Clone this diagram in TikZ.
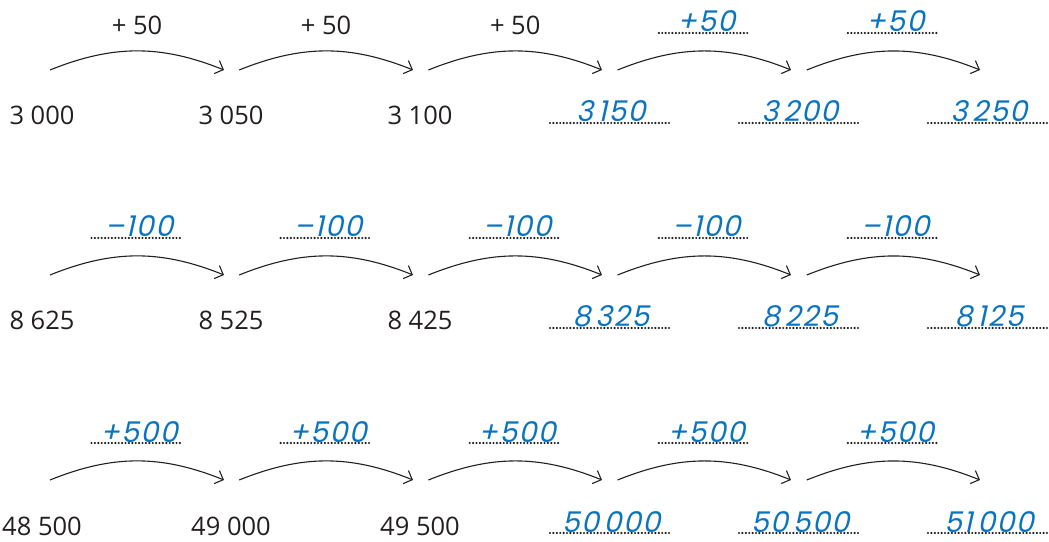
\documentclass[tikz,border=0pt]{standalone}
\usepackage{fontspec}
\setmainfont{Open Sans}
\newfontfamily\hand[FakeSlant=0.22,LetterSpace=5]{Poppins}
\usetikzlibrary{arrows.meta,calc}
\definecolor{ansblue}{HTML}{0A74BE}
\definecolor{dotgray}{HTML}{1E1E1E}
\definecolor{ink}{HTML}{231F20}
\tikzset{
  jump/.style={-{Straight Barb[length=7pt,width=14pt,line width=1.1pt]}, line width=1.1pt, ink, bend left=22},
  given/.style={font=\fontsize{25.5}{25.5}\selectfont, text=ink, anchor=base, inner sep=0pt},
  answer/.style={font=\hand\fontsize{28.5}{28.5}\selectfont, text=ansblue, anchor=base, inner sep=0pt},
  dotline/.style={dotgray, line width=2.4pt, line cap=round, dash pattern=on 0pt off 3.4pt},
}
\begin{document}
\begin{tikzpicture}[x=1pt,y=1pt]
\useasboundingbox (0,0) rectangle (1049,541);
% arrows
\foreach \r/\ay in {1/471,2/266,3/61}{
  \foreach \k in {0,...,4}{
    \coordinate (s\r\k) at ({50+189.2*\k},\ay);
    \coordinate (e\r\k) at ({224+189*\k},\ay);
    \draw[jump] (s\r\k) to (e\r\k);
  }
}
% given numbers and answers
\foreach \r/\ay/\ga/\gb/\gc/\aa/\ab/\ac in {
  1/471/3 000/3 050/3 100/3\,150/3\,200/3\,250,
  2/266/8 625/8 525/8 425/8\,325/8\,225/8\,125,
  3/61/48 500/49 000/49 500/50\,000/50\,500/51\,000}{
  \node[given] (g\r0) at (42,{\ay-55}) {\ga};
  \node[given] (g\r1) at (231,{\ay-55}) {\gb};
  \node[given] (g\r2) at (420,{\ay-55}) {\gc};
  \foreach \j/\t in {0/\aa,1/\ab,2/\ac}{
    \coordinate (ac\r\j) at ({610+189*\j},{\ay-53});
    \draw[dotline] ($(ac\r\j)+(-60,0)$) coordinate (al\r\j) -- ($(ac\r\j)+(60,0)$) coordinate (ar\r\j);
    \node[answer] (a\r\j) at ($(ac\r\j)+(1,1)$) {\t};
  }
}
% black step labels (row 1)
\foreach \k in {0,1,2}{
  \node[given] (l1\k) at ($(s1\k)!0.5!(e1\k)+(0,35)$) {+ 50};
}
% blue step labels
\foreach \r/\k/\t in {1/3/+50,1/4/+50,
  2/0/–100,2/1/–100,2/2/–100,2/3/–100,2/4/–100,
  3/0/+500,3/1/+500,3/2/+500,3/3/+500,3/4/+500}{
  \coordinate (lm\r\k) at ($(s\r\k)!0.5!(e\r\k)+(0,37)$);
  \draw[dotline] ($(lm\r\k)+(-45.5,0)$) -- ($(lm\r\k)+(45.5,0)$);
  \node[answer] (l\r\k) at ($(lm\r\k)+(2,1)$) {\t};
}
\end{tikzpicture}
\end{document}
